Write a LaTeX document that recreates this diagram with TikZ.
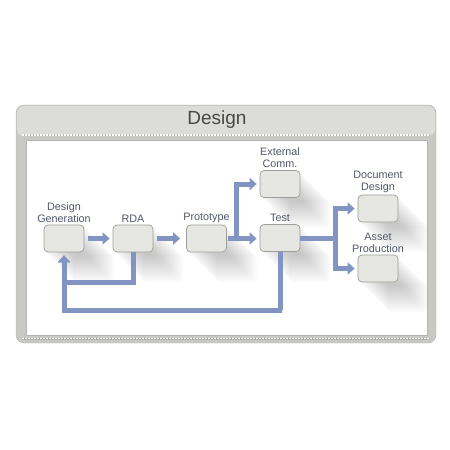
\documentclass[tikz,border=0pt]{standalone}
\usepackage{fontspec}
\newfontfamily\lblfont{Liberation Sans}
\usetikzlibrary{arrows.meta,positioning,calc}
\definecolor{framegray}{HTML}{C8C8C4}
\definecolor{barlight}{HTML}{DCDCD8}
\definecolor{framedge}{HTML}{B4B4B0}
\definecolor{boxfill}{HTML}{E6E6E2}
\definecolor{boxedge}{HTML}{9C9C98}
\definecolor{flowblue}{HTML}{8194C2}
\definecolor{labelgray}{HTML}{525868}
\definecolor{titlegray}{HTML}{484848}
\pgfdeclarelayer{bg}
\pgfdeclarelayer{shade}
\pgfsetlayers{bg,shade,main}
\begin{document}
\begin{tikzpicture}[x=1pt, y=-1pt, font=\lblfont\fontsize{10.8}{12}\selectfont, line join=round,
		stepbox/.style={draw=boxedge, fill=boxfill, rounded corners=4pt, minimum width=40pt, minimum height=27pt, inner sep=0pt, line width=0.7pt},
		lbl/.style={text=labelgray, align=center, inner sep=1pt, anchor=south, yshift=1pt},
		flowline/.style={draw=flowblue, line width=5pt, line join=miter},
		flow/.style={flowline, -{Triangle[width=12pt,length=7pt]}, shorten >=3pt}]
	\useasboundingbox (0,0) rectangle (450,450);
	% frame
	\begin{pgfonlayer}{bg}
		\fill[framegray, draw=framedge, rounded corners=8pt] (16,105) rectangle (436,343);
		\fill[barlight, rounded corners=7pt] (17,106) -- (435,106) -- (435,136) -- (17,136) -- cycle;
		\fill[white, draw=framedge, line width=0.8pt] (26,140) rectangle (427,335);
		\draw[framedge, line width=2pt] (22,135) -- (430,135);
		\draw[white, line width=1.2pt, dash pattern=on 1.5pt off 1.5pt] (22,135) -- (430,135);
		\draw[framedge, line width=2pt] (22,338.5) -- (430,338.5);
		\draw[white, line width=1.2pt, dash pattern=on 1.5pt off 1.5pt] (22,338.5) -- (430,338.5);
		\node[text=titlegray, font=\lblfont\fontsize{19}{22}\selectfont] (title) at (217,120) {Design};
	\end{pgfonlayer}
	% boxes
	\node[stepbox] (gen) at (64,238.5) {};
	\node[stepbox] (rda) at (133,238.5) {};
	\node[stepbox] (proto) at (206.5,238.5) {};
	\node[stepbox] (ext) at (280,184) {};
	\node[stepbox] (test) at (280,238) {};
	\node[stepbox] (doc) at (378,208.5) {};
	\node[stepbox] (asset) at (378,268.5) {};
	\node[lbl] (genlbl) at (gen.north) {Design\\Generation};
	\node[lbl] (rdalbl) at (rda.north) {RDA};
	\node[lbl] (protolbl) at (proto.north) {Prototype};
	\node[lbl] (extlbl) at (ext.north) {External\\Comm.};
	\node[lbl] (testlbl) at (test.north) {Test};
	\node[lbl] (doclbl) at (doc.north) {Document\\Design};
	\node[lbl] (assetlbl) at (asset.north) {Asset\\Production};
	% shadows
	\begin{pgfonlayer}{shade}
		\foreach \n in {gen, rda, proto, ext, test, doc, asset}
		\foreach \d in {2,4,...,30}
		\fill[black, opacity=0.017, rounded corners=4pt] ($(\n.north west)+(\d,\d)$) rectangle ($(\n.south east)+(\d,\d)$);
	\end{pgfonlayer}
	% flow
	\coordinate (split) at (236,238.5);
	\coordinate (fork) at (335,238);
	\coordinate (rdabase) at (133,282);
	\coordinate (testbase) at (282,310);
	\draw[flow, shorten <=4pt] (gen.east) -- (rda.west);
	\draw[flow, shorten <=4pt, shorten >=6pt] (rda.east) -- (proto.west);
	\draw[flow, shorten <=1pt] (proto.east) -- (proto.east -| test.west);
	\draw[flow] (split) |- (ext.west);
	\draw[flowline] (test.east) -- (fork);
	\draw[flow] (fork) |- (doc.west);
	\draw[flow] (fork) |- (asset.west);
	\draw[flow] (rda.south) -- (rdabase) -| (gen.south);
	\draw[flow] (testbase -| test.south) -- (testbase) -| (gen.south);
	\draw[flowline] (test.south) -- (test.south |- testbase);
\end{tikzpicture}
\end{document}
